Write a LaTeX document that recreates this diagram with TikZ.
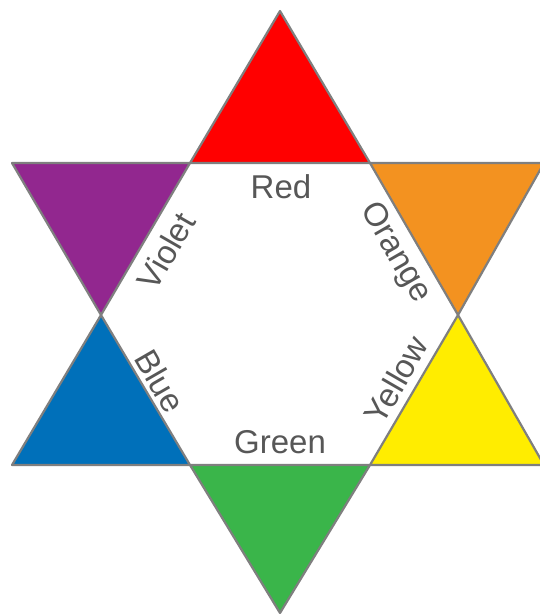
\documentclass[tikz,border=0pt]{standalone}
\usepackage{fontspec}
\setmainfont{Liberation Sans}
\definecolor{cred}{HTML}{FF0000}
\definecolor{corange}{HTML}{F39220}
\definecolor{cyellow}{HTML}{FFED00}
\definecolor{cgreen}{HTML}{3AB54A}
\definecolor{cblue}{HTML}{0070BA}
\definecolor{cviolet}{HTML}{92278F}
\definecolor{edgegray}{HTML}{7F7F7F}
\definecolor{txtgray}{HTML}{575757}
\begin{document}
\begin{tikzpicture}[x=1pt,y=-1pt,
  tri/.style={draw=edgegray,line width=2.2pt,line join=round},
  lbl/.style={text=txtgray,font=\fontsize{33}{35}\selectfont,inner sep=0pt}]
\useasboundingbox (0,0) rectangle (540,614);
% hexagon corners
\coordinate (h1) at (190,163);
\coordinate (h2) at (370,163);
\coordinate (h3) at (458,315);
\coordinate (h4) at (370,465);
\coordinate (h5) at (190,465);
\coordinate (h6) at (101,315);
% outer points
\coordinate (pT) at (280,11);
\coordinate (pTR) at (544,163);
\coordinate (pBR) at (544,465);
\coordinate (pB) at (280,613);
\coordinate (pBL) at (12,465);
\coordinate (pTL) at (12,163);
\filldraw[tri,fill=cred] (pT) -- (h2) -- (h1) -- cycle;
\filldraw[tri,fill=corange] (h2) -- (pTR) -- (h3) -- cycle;
\filldraw[tri,fill=cyellow] (h3) -- (pBR) -- (h4) -- cycle;
\filldraw[tri,fill=cgreen] (h4) -- (pB) -- (h5) -- cycle;
\filldraw[tri,fill=cblue] (h5) -- (pBL) -- (h6) -- cycle;
\filldraw[tri,fill=cviolet] (h6) -- (pTL) -- (h1) -- cycle;
\node[lbl] (red) at (281,187) {Red};
\node[lbl] (green) at (280,442) {Green};
\node[lbl,rotate=60] (violet) at (166,251) {Violet};
\node[lbl,rotate=-60] (orange) at (395,253) {Orange};
\node[lbl,rotate=-60] (blue) at (160,381) {Blue};
\node[lbl,rotate=60] (yellow) at (396,380) {Yellow};
\end{tikzpicture}
\end{document}
